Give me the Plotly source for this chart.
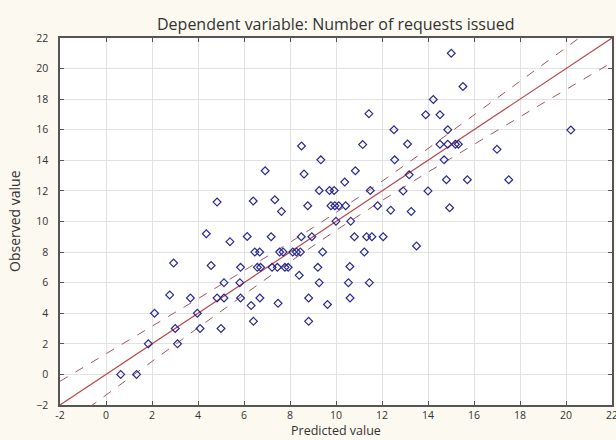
import plotly.graph_objects as go

# Observed vs predicted
predicted = [
    0.64, 1.33, 1.84, 3.11, 2.11, 3.97, 3.01, 4.09, 5.0, 2.77, 3.67, 4.83, 5.13, 5.85,
    5.13, 5.82, 2.94, 4.57, 5.85, 4.36, 5.39, 4.83,
    6.47, 6.68, 7.55, 7.7, 8.12, 8.28, 8.45, 9.42, 11.23,
    6.58, 6.72, 7.22, 7.45, 7.78, 7.92, 9.21, 10.6,
    8.4, 9.27, 10.54, 11.45, 6.69, 8.81, 10.61,
    6.31, 7.48, 9.63, 6.41, 8.81,
    6.14, 7.18, 8.49, 8.95, 10.8, 11.33, 11.56, 12.05, 13.5,
    10.0, 10.64,
    11.43, 8.5, 11.16, 9.34, 6.92, 8.61, 10.84, 10.38, 9.27, 9.72, 9.92, 11.49,
    6.4, 7.34, 7.63, 8.77, 9.78, 9.95, 10.12, 10.42, 11.81,
    15.01, 15.52, 14.23, 13.9, 14.52, 12.52, 14.86, 13.11, 14.52, 14.86, 15.19, 15.32,
    17.0, 12.55, 14.7, 13.18, 12.92, 14.0, 14.8, 15.71, 17.51, 12.38, 13.27, 14.94,
    20.21,
]
observed = [
    0.0, 0.0, 2.0, 2.0, 4.0, 4.0, 3.0, 3.0, 3.0, 5.2, 5.0, 5.0, 5.0, 5.0,
    6.0, 6.0, 7.28, 7.12, 7.0, 9.2, 8.68, 11.27,
    8.0, 8.0, 8.0, 8.0, 8.0, 8.0, 8.0, 8.0, 8.0,
    7.0, 7.0, 7.0, 7.0, 7.0, 7.0, 7.0, 7.06,
    6.48, 6.0, 6.0, 6.0, 5.0, 5.0, 5.0,
    4.5, 4.65, 4.57, 3.47, 3.47,
    9.02, 9.0, 9.0, 9.0, 9.0, 9.0, 9.0, 9.0, 8.4,
    10.02, 10.02,
    17.05, 14.94, 15.03, 14.03, 13.32, 13.1, 13.32, 12.58, 12.03, 12.03, 12.03, 12.03,
    11.34, 11.42, 10.66, 11.03, 11.03, 11.03, 11.03, 11.03, 11.03,
    21.0, 18.83, 17.98, 16.98, 16.98, 16.0, 16.0, 15.07, 15.05, 15.05, 15.05, 15.05,
    14.72, 14.03, 14.03, 13.05, 12.0, 12.0, 12.73, 12.73, 12.73, 10.74, 10.66, 10.9,
    15.98,
]

# Regression line and 95% confidence band
band_x = [-2, 0, 2, 4, 6, 8, 10, 12, 14, 16, 18, 20, 22]
fit_y = [-2, 0, 2, 4, 6, 8, 10, 12, 14, 16, 18, 20, 22]
band_upper = [-0.45, 1.37, 3.15, 4.95, 6.77, 8.63, 10.58, 12.63, 14.77, 16.95, 19.15, 21.37, 23.6]
band_lower = [-3.55, -1.37, 0.85, 3.05, 5.23, 7.37, 9.42, 11.37, 13.23, 15.05, 16.85, 18.63, 20.4]

tick_vals = [-2, 0, 2, 4, 6, 8, 10, 12, 14, 16, 18, 20, 22]
x_tick_text = ["-2", "0", "2", "4", "6", "8", "10", "12", "14", "16", "18", "20", ""]
last_x_tick = "22"

title_text = "Dependent variable: Number of requests issued"
x_title = "Predicted value"
y_title = "Observed value"

line_col = "#b8484a"
band_col = "#9a5a60"
marker_col = "#2a2a8e"
font_fam = "Open Sans"

fig = go.Figure()
fig.add_trace(go.Scatter(x=band_x, y=band_upper, mode="lines",
                         line=dict(color=band_col, width=1, dash="dash"), hoverinfo="skip"))
fig.add_trace(go.Scatter(x=band_x, y=band_lower, mode="lines",
                         line=dict(color=band_col, width=1, dash="dash"), hoverinfo="skip"))
fig.add_trace(go.Scatter(x=band_x, y=fit_y, mode="lines",
                         line=dict(color=line_col, width=1.2), hoverinfo="skip"))
fig.add_trace(go.Scatter(x=predicted, y=observed, mode="markers",
                         marker=dict(symbol="diamond-open", size=6, color=marker_col,
                                     line=dict(width=1.2, color=marker_col))))

axis_common = dict(
    tickvals=tick_vals,
    showgrid=True, gridcolor="#e2e2e2", gridwidth=1,
    zeroline=False,
    showline=True, linecolor="#555555", linewidth=1.5, mirror="allticks",
    ticks="inside", ticklen=4, tickcolor="#555555",
    tickfont=dict(family=font_fam, size=10.5, color="#333333"),
)

fig.update_layout(
    width=616, height=440,
    margin=dict(l=60, r=2, t=38, b=35),
    paper_bgcolor="#fcf9f0",
    plot_bgcolor="#ffffff",
    showlegend=False,
    xaxis=dict(range=[-2, 22], ticktext=x_tick_text, ticklabelstandoff=0, **axis_common),
    yaxis=dict(range=[-2, 22], ticklabelstandoff=8, **axis_common),
    annotations=[
        dict(text=title_text, x=0.5, y=1, xref="paper", yref="paper",
             xanchor="center", yanchor="bottom", yshift=1, showarrow=False,
             font=dict(family=font_fam, size=16, color="#333333")),
        dict(text=x_title, x=0.5, y=0, xref="paper", yref="paper",
             xanchor="center", yanchor="top", yshift=-16, showarrow=False, borderpad=0,
             font=dict(family=font_fam, size=12.5, color="#333333")),
        dict(text=y_title, x=0, y=0.5, xref="paper", yref="paper",
             xanchor="right", yanchor="middle", xshift=-34, textangle=-90, showarrow=False,
             font=dict(family=font_fam, size=14, color="#333333")),
        dict(text=last_x_tick, x=22, y=0, xref="x", yref="paper",
             xanchor="center", yanchor="top", yshift=-1, showarrow=False,
             font=dict(family=font_fam, size=10.5, color="#333333")),
    ],
)

fig.write_html("out.html")
